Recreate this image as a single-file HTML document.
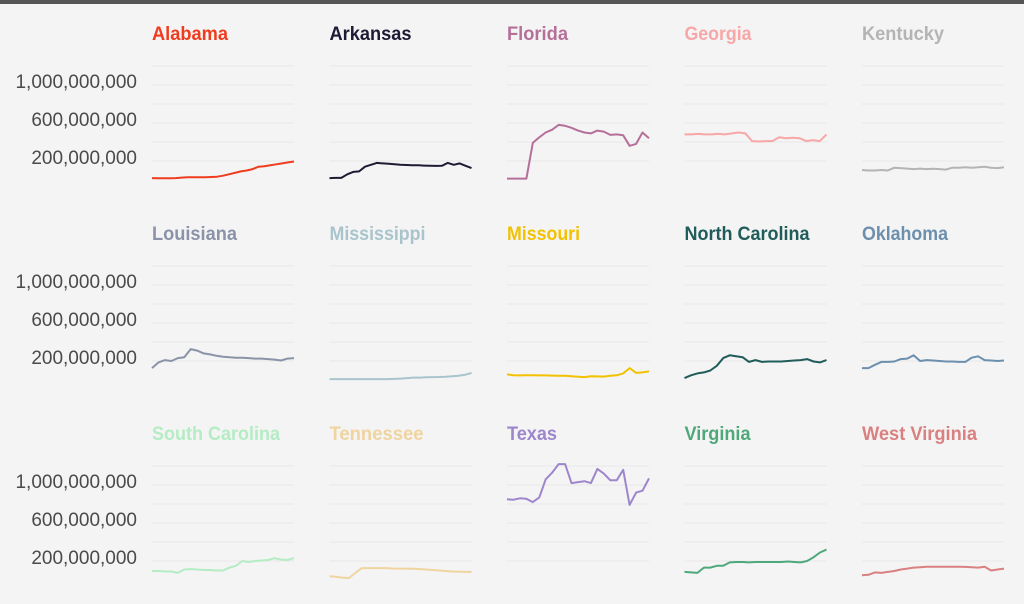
<!DOCTYPE html>
<html><head><meta charset="utf-8">
<style>
html,body{margin:0;padding:0;background:#f4f4f4;}
body{width:1024px;height:604px;overflow:hidden;font-family:"Liberation Sans",sans-serif;}
#topbar{position:absolute;left:0;top:0;width:1024px;height:4px;background:#555;}
svg{position:absolute;left:0;top:0;}
</style></head>
<body>
<div id="topbar"></div>
<svg id="chart" width="1024" height="604"></svg>
<script>
const states = ["Alabama","Arkansas","Florida","Georgia","Kentucky","Louisiana","Mississippi","Missouri","North Carolina","Oklahoma","South Carolina","Tennessee","Texas","Virginia","West Virginia"];
const colors = ["#f03c1e","#1e1a33","#b5709a","#f7a7a7","#b4b4b4","#8a93a8","#a9c4cc","#f2c200","#1f5c5a","#6c8fae","#b4ecc4","#f0d4a0","#9d86cc","#4fa87a","#d98080"];
const titleWidths = [76,82,61,67,82,85,96,73,125,86,128,94,50,66,115];
const yTicks = [200,600,1000];
const yTickLabels = ["200,000,000","600,000,000","1,000,000,000"];
const gridValues = [200,400,600,800,1000,1200];
const alabama = [20,18,18,18,20,25,30,30,30,30,32,35,45,60,75,90,100,115,140,145,155,165,175,185,195];
const arkansas = [20,22,22,60,85,90,140,160,180,175,170,165,160,158,155,155,152,150,148,150,180,160,175,150,125];
const florida = [15,15,15,15,390,450,500,530,580,570,550,520,500,490,520,510,475,480,470,360,380,500,440];
const georgia = [480,480,485,480,480,485,480,490,500,490,410,405,410,410,450,440,445,440,410,420,410,480];
const kentucky = [105,100,100,105,100,130,125,120,115,120,115,118,115,110,130,130,135,130,135,140,130,125,135];
const louisiana = [125,185,210,200,230,240,325,310,280,270,255,245,240,235,235,230,225,225,220,215,205,225,230];
const mississippi = [10,10,10,10,10,10,10,10,10,10,12,15,20,25,25,28,30,32,35,40,45,55,75];
const missouri = [60,50,48,50,50,48,48,46,45,44,40,35,30,40,38,36,45,50,70,125,75,80,90];
const northCarolina = [20,50,70,80,100,150,230,260,250,240,190,210,190,195,195,195,200,205,210,220,195,185,210];
const oklahoma = [125,125,160,190,190,195,220,225,260,200,210,205,200,195,195,190,190,235,250,210,205,200,205];
const southCarolina = [95,95,90,90,75,110,115,110,105,105,100,100,130,150,200,190,200,205,210,230,215,210,230];
const tennessee = [40,35,25,20,75,125,125,125,125,125,120,120,120,118,115,110,105,100,95,90,88,85,85];
const texas = [850,845,860,855,820,870,1060,1130,1220,1220,1020,1030,1040,1020,1170,1120,1050,1050,1160,790,920,940,1070];
const virginia = [85,80,75,130,130,150,150,185,190,190,185,190,190,190,190,190,195,190,185,200,240,290,320];
const westVirginia = [50,55,80,75,85,95,110,120,130,135,140,140,140,140,140,140,138,135,130,140,100,110,120];
const series = [alabama,arkansas,florida,georgia,kentucky,louisiana,mississippi,missouri,northCarolina,oklahoma,southCarolina,tennessee,texas,virginia,westVirginia];

const svg = document.getElementById('chart');
const NS = 'http://www.w3.org/2000/svg';
const colX = [152,329.5,507,684.5,862];
const panelW = 142;
const rowZero = [180,380,580];
const k = 0.095;
function yScale(v,row){return rowZero[row]-v*k;}
function xScale(i,n,col){return colX[col]+i*panelW/(n-1);}

for(let r=0;r<3;r++){
  for(let t=0;t<yTicks.length;t++){
    const tx=document.createElementNS(NS,'text');
    
    
    tx.setAttribute('x',137);
    tx.setAttribute('y',yScale(yTicks[t],r)+3);
    tx.setAttribute('text-anchor','end');
    tx.setAttribute('font-size','19');
    tx.setAttribute('fill','#4a4a4a');
    tx.setAttribute('font-family','Liberation Sans, sans-serif');
    tx.textContent=yTickLabels[t];
    svg.appendChild(tx);
  }
}
states.forEach((s,idx)=>{
  const row=Math.floor(idx/5), col=idx%5;
  const g=document.createElementNS(NS,'g');
  
  
  svg.appendChild(g);
  gridValues.forEach(v=>{
    const l=document.createElementNS(NS,'line');
    
    
    l.setAttribute('x1',colX[col]);l.setAttribute('x2',colX[col]+panelW);
    l.setAttribute('y1',yScale(v,row));l.setAttribute('y2',yScale(v,row));
    l.setAttribute('stroke','#e8e8e8');l.setAttribute('stroke-width','1');
    g.appendChild(l);
  });
  const t=document.createElementNS(NS,'text');
  
  
  t.setAttribute('x',colX[col]);t.setAttribute('y',40+row*200);
  t.setAttribute('font-size','19');t.setAttribute('font-weight','bold');
  t.setAttribute('fill',colors[idx]);
  t.setAttribute('font-family','Liberation Sans, sans-serif');
  t.setAttribute('textLength',titleWidths[idx]);
  t.setAttribute('lengthAdjust','spacingAndGlyphs');
  t.textContent=s;
  g.appendChild(t);
  const d=series[idx];
  const pts=d.map((v,i)=>xScale(i,d.length,col).toFixed(1)+','+yScale(v,row).toFixed(1)).join(' ');
  const p=document.createElementNS(NS,'polyline');
  
  
  p.setAttribute('points',pts);
  p.setAttribute('fill','none');p.setAttribute('stroke',colors[idx]);
  p.setAttribute('stroke-width','2');p.setAttribute('stroke-linejoin','round');
  g.appendChild(p);
});
</script>
</body></html>
